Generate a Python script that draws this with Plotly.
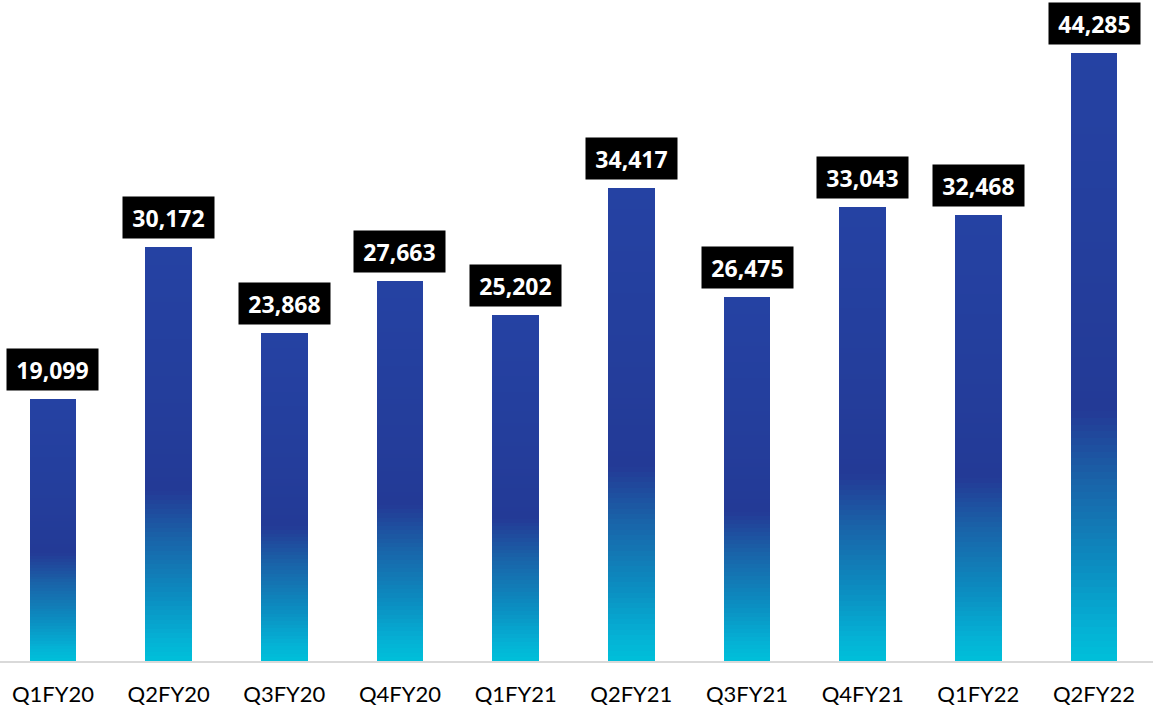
import plotly.graph_objects as go

categories = ["Q1FY20", "Q2FY20", "Q3FY20", "Q4FY20", "Q1FY21",
              "Q2FY21", "Q3FY21", "Q4FY21", "Q1FY22", "Q2FY22"]
values = [19099, 30172, 23868, 27663, 25202, 34417, 26475, 33043, 32468, 44285]
labels = ["19,099", "30,172", "23,868", "27,663", "25,202",
          "34,417", "26,475", "33,043", "32,468", "44,285"]

# gradient stops (fraction of bar height from bottom, rgb)
stops = [(0.0, (0, 192, 218)), (0.05, (4, 178, 213)), (0.16, (12, 140, 192)),
         (0.30, (26, 98, 168)), (0.41, (35, 58, 150)), (0.65, (36, 62, 156)),
         (1.0, (37, 66, 163))]


def grad(t):
    for (t0, c0), (t1, c1) in zip(stops[:-1], stops[1:]):
        if t0 <= t <= t1:
            f = (t - t0) / (t1 - t0) if t1 > t0 else 0
            return "rgb(%d,%d,%d)" % tuple(round(a + (b - a) * f) for a, b in zip(c0, c1))
    return "rgb(%d,%d,%d)" % stops[-1][1]


N = 90
fig = go.Figure()
for k in range(N):
    fig.add_trace(go.Bar(
        x=categories, y=[v / N for v in values],
        marker=dict(color=grad((k + 0.5) / N), line=dict(width=0)),
        showlegend=False, hoverinfo="skip"))

for c, v, lab in zip(categories, values, labels):
    fig.add_annotation(x=c, y=v, text="<b>%s</b>" % lab, showarrow=False,
                       yanchor="bottom", yshift=8, bgcolor="black",
                       borderpad=0, width=91, height=41,
                       font=dict(family="Open Sans", size=23, color="white"))

fig.update_layout(
    width=1153, height=714, barmode="stack", bargap=0.594,
    margin=dict(l=0, r=0, t=0, b=53),
    plot_bgcolor="white", paper_bgcolor="white",
    xaxis=dict(showline=True, linecolor="#D9D9D9", linewidth=2,
               ticks="outside", ticklen=13, tickcolor="rgba(0,0,0,0)",
               tickfont=dict(family="Lato", size=22, color="black"),
               range=[-0.458, 9.51], automargin=False),
    yaxis=dict(visible=False, range=[0, 48140], automargin=False),
)
fig.write_html("out.html", config={"displayModeBar": False},
               post_script="document.body.style.margin='0';document.body.style.overflow='hidden';")
